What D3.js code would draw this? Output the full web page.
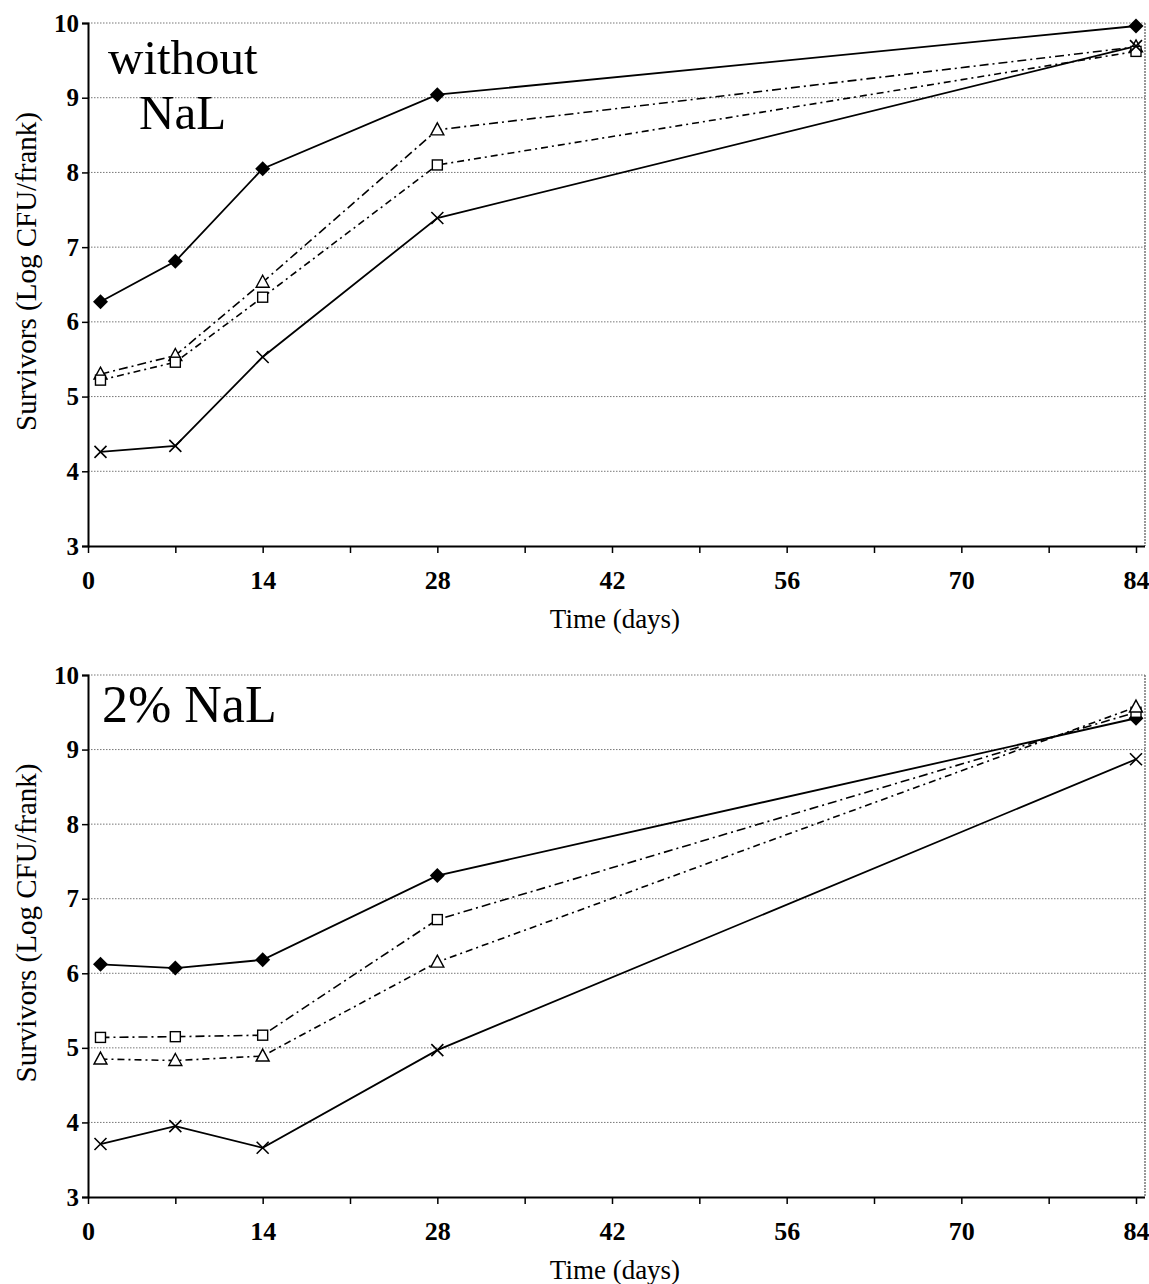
<!DOCTYPE html>
<html><head><meta charset="utf-8">
<script src="https://cdn.jsdelivr.net/npm/d3@7"></script>
<style>body{margin:0;background:#fff}svg{display:block}</style>
</head><body>
<script>
const days = [1, 7, 14, 28, 84];
const xTickValues = [0, 14, 28, 42, 56, 70, 84];
const xMinorTicks = [0, 7, 14, 21, 28, 35, 42, 49, 56, 63, 70, 77, 84];
const yTickValues = [3, 4, 5, 6, 7, 8, 9, 10];
const panelLabels = [["without", "NaL"], ["2% NaL"]];
// Panel 1: without NaL
const p1Diamond = [6.27, 6.81, 8.05, 9.04, 9.96];
const p1Triangle = [5.30, 5.55, 6.53, 8.57, 9.68];
const p1Square = [5.22, 5.46, 6.33, 8.10, 9.62];
const p1Cross = [4.26, 4.34, 5.53, 7.39, 9.69];
// Panel 2: 2% NaL
const p2Diamond = [6.12, 6.07, 6.18, 7.31, 9.42];
const p2Square = [5.14, 5.15, 5.17, 6.72, 9.50];
const p2Triangle = [4.85, 4.83, 4.89, 6.15, 9.57];
const p2Cross = [3.71, 3.95, 3.66, 4.97, 8.87];

const W = 1149, H = 1284;
const svg = d3.select("body").append("svg").attr("width", W).attr("height", H);
const font = "'Liberation Serif','Times New Roman',serif";

const panels = [
  {top: 23, bottom: 546, labels: panelLabels[0],
   series: [
     {v: p1Diamond, m: "diamond", dash: null},
     {v: p1Triangle, m: "triangle", dash: "9,4,2,4"},
     {v: p1Square, m: "square", dash: "7,4,2,4"},
     {v: p1Cross, m: "cross", dash: null}]},
  {top: 675, bottom: 1197, labels: panelLabels[1],
   series: [
     {v: p2Diamond, m: "diamond", dash: null},
     {v: p2Square, m: "square", dash: "9,4,2,4"},
     {v: p2Triangle, m: "triangle", dash: "7,4,2,4"},
     {v: p2Cross, m: "cross", dash: null}]}
];

const left = 88, right = 1136, frameRight = 1145;

panels.forEach((p, pi) => {
  const x = d3.scaleLinear().domain([0, 84]).range([left, right]);
  const y = d3.scaleLinear().domain([3, 10]).range([p.bottom, p.top]);
  const g = svg.append("g");

  // gridlines
  g.selectAll(".grid").data(yTickValues.filter(d => d > 3)).join("line")
    .attr("x1", left).attr("x2", frameRight)
    .attr("y1", d => y(d)).attr("y2", d => y(d))
    .attr("stroke", "#777").attr("stroke-width", 1).attr("stroke-dasharray", "1.5,1.5");
  // right frame
  g.append("line").attr("x1", frameRight).attr("x2", frameRight)
    .attr("y1", p.top).attr("y2", p.bottom).attr("stroke", "#555").attr("stroke-width", 1.2)
    .attr("stroke-dasharray", "2,1");

  // y axis
  const ya = g.append("g").attr("transform", `translate(${left},0)`)
    .call(d3.axisLeft(y).tickValues(yTickValues).tickSize(6).tickPadding(3).tickFormat(d3.format("d")));
  ya.select(".domain").attr("stroke", "#000").attr("stroke-width", 2);
  ya.selectAll(".tick line").attr("stroke", "#000").attr("stroke-width", 1.5);
  ya.selectAll("text").attr("font-family", font).attr("font-size", 25).attr("font-weight", "bold").attr("fill", "#000");

  // x axis
  const xa = g.append("g").attr("transform", `translate(0,${p.bottom})`)
    .call(d3.axisBottom(x).tickValues(xMinorTicks).tickSize(7).tickPadding(18)
      .tickFormat(d => xTickValues.includes(d) ? d : ""));
  xa.select(".domain").attr("stroke", "#000").attr("stroke-width", 2)
    .attr("d", `M${left},0.5H${frameRight}`);
  xa.selectAll(".tick line").attr("stroke", "#000").attr("stroke-width", 1.5);
  xa.selectAll("text").attr("font-family", font).attr("font-size", 26).attr("font-weight", "bold").attr("fill", "#000");

  // axis titles
  g.append("text").attr("x", 615).attr("y", p.bottom + 82)
    .attr("text-anchor", "middle").attr("font-family", font).attr("font-size", 27)
    .text("Time (days)");
  g.append("text").attr("transform", `translate(36,${(p.top + p.bottom) / 2 - 13}) rotate(-90)`)
    .attr("text-anchor", "middle").attr("font-family", font).attr("font-size", 29)
    .text("Survivors (Log CFU/frank)");

  // panel labels
  if (p.labels.length === 2) {
    g.append("text").attr("x", 108).attr("y", p.top + 51).attr("font-family", font)
      .attr("font-size", 49).text(p.labels[0]);
    g.append("text").attr("x", 139).attr("y", p.top + 106).attr("font-family", font)
      .attr("font-size", 49).text(p.labels[1]);
  } else {
    g.append("text").attr("x", 102).attr("y", p.top + 47).attr("font-family", font)
      .attr("font-size", 52).text(p.labels[0]);
  }

  // series
  const line = d3.line().x((d, i) => x(days[i])).y(d => y(d));
  p.series.forEach(s => {
    g.append("path").datum(s.v).attr("d", line).attr("fill", "none")
      .attr("stroke", "#000").attr("stroke-width", s.dash ? 1.6 : 1.8)
      .attr("stroke-dasharray", s.dash);
  });
  p.series.forEach(s => {
    const pts = g.selectAll(null).data(s.v).join("g")
      .attr("transform", (d, i) => `translate(${x(days[i])},${y(d)})`);
    if (s.m === "diamond") {
      pts.append("path").attr("d", "M0,-7.5L7.5,0L0,7.5L-7.5,0Z").attr("fill", "#000");
    } else if (s.m === "square") {
      pts.append("rect").attr("x", -5).attr("y", -5).attr("width", 10).attr("height", 10)
        .attr("fill", "#fff").attr("stroke", "#000").attr("stroke-width", 1.4);
    } else if (s.m === "triangle") {
      pts.append("path").attr("d", "M0,-7L6.5,5L-6.5,5Z")
        .attr("fill", "#fff").attr("stroke", "#000").attr("stroke-width", 1.4);
    } else {
      pts.append("path").attr("d", "M-6,-6L6,6M-6,6L6,-6")
        .attr("stroke", "#000").attr("stroke-width", 1.6);
    }
  });
});
</script>
</body></html>
